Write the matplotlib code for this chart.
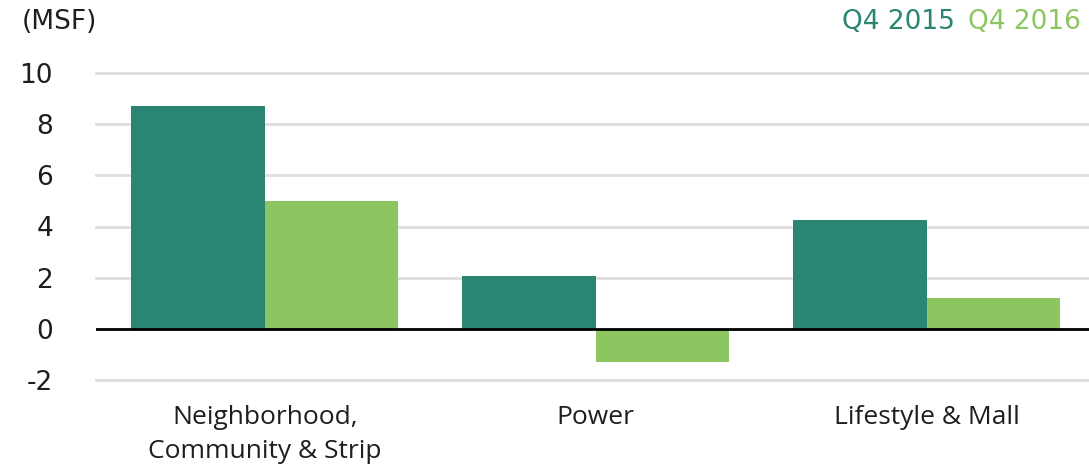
import matplotlib.pyplot as plt
import numpy as np

# data
categories = ["Neighborhood,\nCommunity & Strip", "Power", "Lifestyle & Mall"]
q4_2015 = [8.7, 2.05, 4.25]
q4_2016 = [5.0, -1.3, 1.2]
yticks = [-2, 0, 2, 4, 6, 8, 10]

dark = "#2a8572"
light = "#8dc660"
txt = "#1e1e1e"

plt.rcParams["font.family"] = ["Open Sans", "DejaVu Sans"]

fig = plt.figure(figsize=(10.89, 4.66), dpi=100)
ax = fig.add_axes([96 / 1089, 86 / 466, 993 / 1089, 307 / 466])

x = np.arange(len(categories))
w = 0.403
ax.bar(x - w / 2, q4_2015, w, color=dark, zorder=3)
ax.bar(x + w / 2, q4_2016, w, color=light, zorder=3)

ax.set_xlim(-0.51, 2.49)
ax.set_ylim(-2, 10)
ax.set_yticks(yticks)
ax.set_yticklabels([str(t) for t in yticks], family="DejaVu Sans")
ax.set_xticks(x)
ax.set_xticklabels(categories, linespacing=1.45)

for t in yticks:
    if t != 0:
        ax.axhline(t, color="#dedede", lw=2, zorder=1, clip_on=False)
ax.axhline(0, color="black", lw=2, zorder=4)

for s in ax.spines.values():
    s.set_visible(False)
ax.tick_params(axis="y", length=0, pad=31, labelsize=19, colors=txt)
ax.tick_params(axis="x", length=0, pad=18, labelsize=19, colors=txt)

fig.text(22 / 1089, 1 - 22 / 466, "(MSF)", fontsize=19, color=txt, va="center", ha="left",
         family="DejaVu Sans")
fig.text(842 / 1089, 1 - 22 / 466, "Q4 2015", fontsize=19, color=dark, va="center", ha="left",
         family="DejaVu Sans")
fig.text(968 / 1089, 1 - 22 / 466, "Q4 2016", fontsize=19, color=light, va="center", ha="left",
         family="DejaVu Sans")

fig.savefig("out.png", dpi=100)
